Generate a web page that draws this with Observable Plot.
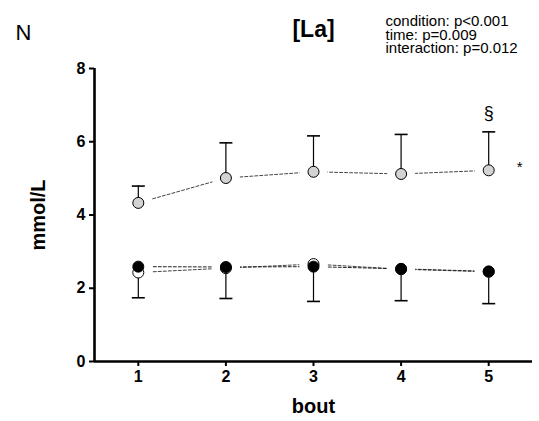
<!DOCTYPE html>
<html>
<head>
<meta charset="utf-8">
<script src="https://cdn.jsdelivr.net/npm/d3@7"></script>
<script src="https://cdn.jsdelivr.net/npm/@observablehq/plot@0.6"></script>
<style>
  html, body { margin: 0; padding: 0; background: #fff; }
  #chart svg { display: block; }
  g[aria-label="x-axis tick label"], g[aria-label="y-axis tick label"] { font-weight: bold; }
</style>
</head>
<body>
<div id="chart"></div>
<script>
// ---- data ----
const bouts = [1, 2, 3, 4, 5];
const openMean   = [2.43, 2.55, 2.66, 2.52, 2.45];
const openLower  = [1.74, 1.72, 1.64, 1.66, 1.58];   // mean - SD
const blackMean  = [2.59, 2.58, 2.59, 2.53, 2.46];
const grayMean   = [4.33, 5.01, 5.18, 5.12, 5.22];
const grayUpper  = [4.79, 5.97, 6.16, 6.20, 6.27];   // mean + SD
const yTicks = [0, 2, 4, 6, 8];
const panelLabel = "N";
const title = "[La]";
const statsLines = ["condition: p<0.001", "time: p=0.009", "interaction: p=0.012"];
const yLabel = "mmol/L";
const xLabel = "bout";
const sectionMark = "§";
const starMark = "*";

// ---- tidy tables ----
const seriesDefs = [
  {name: "gray",  mean: grayMean,  fill: "#d3d3d3", line: "#444"},
  {name: "open",  mean: openMean,  fill: "#ffffff", line: "#444"},
  {name: "black", mean: blackMean, fill: "#000000", line: "#222"}
];
const points = seriesDefs.flatMap(s => bouts.map((b, i) => ({series: s.name, bout: b, value: s.mean[i], fill: s.fill, line: s.line})));
const grayErr = bouts.map((b, i) => ({bout: b, from: grayMean[i], to: grayUpper[i]}));
const openErr = bouts.map((b, i) => ({bout: b, from: openMean[i], to: openLower[i]}));
const errs = grayErr.concat(openErr);

const font = "Liberation Sans, Arial, Helvetica, sans-serif";
const capSymbol = {draw(ctx) { ctx.moveTo(-6.5, 0); ctx.lineTo(6.5, 0); }};

const chart = Plot.plot({
  width: 539,
  height: 421,
  marginLeft: 94,
  marginRight: 7,
  marginTop: 68,
  marginBottom: 60,
  style: {fontFamily: font, background: "#fff", color: "#000"},
  x: {domain: [0.5, 5.5]},
  y: {domain: [0, 8]},
  marks: [
    // dashed connecting lines
    Plot.line(points, {x: "bout", y: "value", z: "series", stroke: "line", strokeWidth: 1, strokeDasharray: "3,2"}),
    // white halos producing gaps around markers
    Plot.dot(points, {x: "bout", y: "value", r: 14, fill: "white", stroke: null}),
    // error bars
    Plot.ruleX(errs, {x: "bout", y1: "from", y2: "to", stroke: "#000", strokeWidth: 1.2}),
    Plot.dot(errs, {x: "bout", y: "to", symbol: capSymbol, r: 5, stroke: "#000", strokeWidth: 1.6, fill: null}),
    // markers
    Plot.dot(points, {x: "bout", y: "value", r: 5.5, fill: "fill", stroke: "#000", strokeWidth: 1}),
    // axes
    Plot.axisX({ticks: bouts, tickFormat: "d", tickSize: 5, tickPadding: 4, strokeWidth: 2, fontSize: 16, fontWeight: "bold", label: null}),
    Plot.axisY({ticks: yTicks, tickFormat: "d", tickSize: 5, tickPadding: 4, strokeWidth: 2, fontSize: 16, fontWeight: "bold", label: null}),
    Plot.ruleY([0], {strokeWidth: 2.6}),
    Plot.ruleX([0.5], {y1: 0, y2: 8, strokeWidth: 2.6}),
    // annotations
    Plot.text([sectionMark], {x: 5, y: grayUpper[4], text: d => d, dy: -19, fontSize: 18}),
    Plot.text([starMark], {x: 5, y: grayMean[4], text: d => d, dx: 31, dy: -3, fontSize: 15}),
    // labels and titles
    Plot.text([yLabel], {frameAnchor: "left", text: d => d, textAnchor: "middle", lineAnchor: "middle", rotate: -90, dx: -56, fontSize: 20, fontWeight: "bold"}),
    Plot.text([xLabel], {frameAnchor: "bottom", text: d => d, textAnchor: "middle", lineAnchor: "middle", dy: 45, fontSize: 20, fontWeight: "bold"}),
    Plot.text([panelLabel], {frameAnchor: "top-left", text: d => d, textAnchor: "middle", lineAnchor: "middle", dx: -71, dy: -36, fontSize: 22}),
    Plot.text([title], {frameAnchor: "top", text: d => d, textAnchor: "middle", lineAnchor: "middle", dy: -39, fontSize: 23, fontWeight: "bold"}),
    Plot.text([statsLines.join("\n")], {frameAnchor: "top-left", text: d => d, textAnchor: "start", lineAnchor: "middle", dx: 291, dy: -33, fontSize: 15, lineHeight: 0.9})
  ]
});
document.getElementById("chart").appendChild(chart);
</script>
</body>
</html>
